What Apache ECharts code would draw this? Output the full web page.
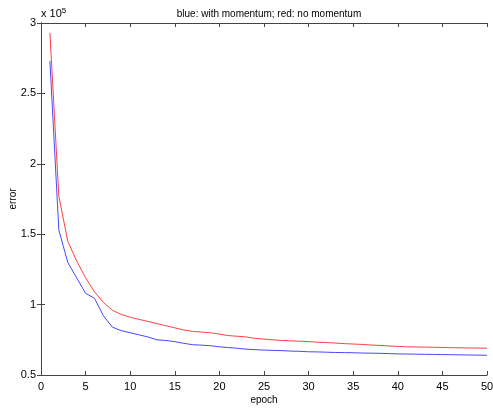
<!DOCTYPE html>
<html>
<head>
<meta charset="utf-8">
<script src="https://cdn.jsdelivr.net/npm/echarts@6/dist/echarts.min.js"></script>
<style>
  html, body { margin: 0; padding: 0; background: #fff; }
  #chart { width: 493px; height: 409px; }
</style>
</head>
<body>
<div id="chart"></div>
<script>
// epochs 1..50
var epochs = [];
for (var i = 1; i <= 50; i++) epochs.push(i);

// error without momentum (red)
var noMomentum = [293000, 177000, 145000, 131000, 119000, 109000, 101500, 96000, 93000, 91000,
  89500, 88000, 86500, 85000, 83500, 82000, 81000, 80500, 80000, 79000,
  78000, 77500, 77000, 76000, 75500, 75000, 74500, 74200, 74000, 73700,
  73300, 73000, 72700, 72300, 72000, 71700, 71300, 71000, 70600, 70300,
  70000, 69900, 69800, 69700, 69500, 69400, 69300, 69200, 69100, 69000];

// error with momentum (blue)
var withMomentum = [273000, 153000, 130000, 119000, 108000, 104500, 92000, 84000, 81500, 80000,
  78500, 77000, 75000, 74500, 73700, 72500, 71500, 71200, 70800, 70000,
  69500, 69000, 68300, 68000, 67700, 67500, 67300, 67000, 66800, 66500,
  66400, 66200, 66000, 65900, 65800, 65600, 65500, 65400, 65200, 65000,
  64900, 64800, 64700, 64600, 64500, 64400, 64300, 64200, 64100, 64000];

function pairs(ys) {
  return epochs.map(function (e, k) { return [e, ys[k]]; });
}

var font = 'Liberation Sans, Arial, sans-serif';
var boxColor = '#444';

var myChart = echarts.init(document.getElementById('chart'));
var option = {
  animation: false,
  backgroundColor: '#fff',
  textStyle: { fontFamily: font },
  title: [{
    text: 'blue: with momentum; red: no momentum',
    left: 264, top: 4, textAlign: 'center',
    textStyle: { fontSize: 10, fontWeight: 'normal', color: '#000', fontFamily: font }
  }, {
    text: 'x 10{sup|5}',
    left: 36, top: 2,
    textStyle: {
      fontSize: 11, fontWeight: 'normal', color: '#000', fontFamily: font,
      rich: { sup: { fontSize: 8, verticalAlign: 'top', padding: [0, 0, 6, 0], color: '#000' } }
    }
  }],
  grid: { left: 41, right: 6, top: 23, bottom: 34, show: false, containLabel: false, outerBoundsMode: 'none' },
  xAxis: [{
    type: 'value', min: 0, max: 50, interval: 5,
    name: 'epoch', nameLocation: 'middle', nameGap: 20, nameMoveOverlap: false,
    nameTextStyle: { fontSize: 10, color: '#000', fontFamily: font },
    axisLine: { show: true, lineStyle: { color: boxColor } },
    axisTick: { show: true, inside: true, length: 4, lineStyle: { color: boxColor } },
    axisLabel: { fontSize: 11, color: '#000', margin: 6, fontFamily: font },
    splitLine: { show: false }
  }, {
    type: 'value', min: 0, max: 50, interval: 5, position: 'top',
    axisLine: { show: true, lineStyle: { color: boxColor } },
    axisTick: { show: true, inside: true, length: 4, lineStyle: { color: boxColor } },
    axisLabel: { show: false },
    splitLine: { show: false }
  }],
  yAxis: [{
    type: 'value', min: 50000, max: 300000, interval: 50000,
    name: 'error', nameLocation: 'middle', nameGap: 23, nameMoveOverlap: false,
    nameTextStyle: { fontSize: 10, color: '#000', fontFamily: font },
    axisLine: { show: true, lineStyle: { color: boxColor } },
    axisTick: { show: true, inside: true, length: 4, lineStyle: { color: boxColor } },
    axisLabel: {
      fontSize: 11, color: '#000', margin: 5, fontFamily: font,
      formatter: function (v) { return String(+(v / 100000).toFixed(1)); }
    },
    splitLine: { show: false }
  }, {
    type: 'value', min: 50000, max: 300000, interval: 50000, position: 'right',
    axisLine: { show: true, lineStyle: { color: boxColor } },
    axisTick: { show: true, inside: true, length: 4, lineStyle: { color: boxColor } },
    axisLabel: { show: false },
    splitLine: { show: false }
  }],
  series: [{
    name: 'no momentum',
    type: 'line',
    data: pairs(noMomentum),
    showSymbol: false,
    lineStyle: { color: '#ff4040', width: 1 },
    itemStyle: { color: '#ff4040' }
  }, {
    name: 'with momentum',
    type: 'line',
    data: pairs(withMomentum),
    showSymbol: false,
    lineStyle: { color: '#4848ff', width: 1 },
    itemStyle: { color: '#4848ff' }
  }]
};
myChart.setOption(option);
</script>
</body>
</html>
